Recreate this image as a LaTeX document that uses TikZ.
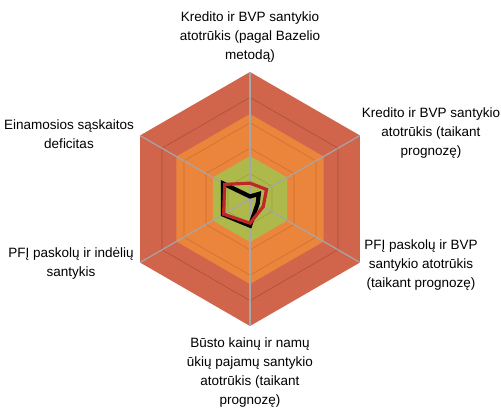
\documentclass[tikz,border=0pt]{standalone}
\usepackage{fontspec}
\setmainfont{Liberation Sans}
\definecolor{zonaR}{RGB}{208,101,76}
\definecolor{zonaO}{RGB}{236,133,60}
\definecolor{zonaG}{RGB}{173,185,74}
\definecolor{raudona}{RGB}{192,40,40}
\definecolor{pilka}{RGB}{166,166,166}

\begin{document}
\begin{tikzpicture}[
			x=1pt, y=1pt,
			tinklas/.style={line width=0.6pt},
			asis/.style={line width=1.2pt, pilka},
			serija/.style={line width=#1, line join=miter},
			pavad/.style={align=center, inner sep=0pt,
				font=\fontsize{13.5}{19}\selectfont}]
			\def\R{127}
			\useasboundingbox (-250,-209) rectangle (251,199);
			
			%% zonos
			\foreach \r/\c in {\R/zonaR, 85/zonaO, 43/zonaG}
				\fill[\c] (90:\r) \foreach \a in {30,-30,-90,-150,150} {-- (\a:\r)} -- cycle;
			
			%% tinklelis
			\foreach \k/\c in {0.8/zonaR!80!black, 0.6/zonaO!85!black, 0.4/zonaO!85!black, 0.2/zonaG!88!black}
				\draw[tinklas, \c] (90:{\k*\R}) \foreach \a in {30,-30,-90,-150,150} {-- (\a:{\k*\R})} -- cycle;
			
			%% asys
			\coordinate (c) at (0,0);
			\foreach \i/\a in {1/90, 2/30, 3/-30, 4/-90, 5/-150, 6/150}
				\coordinate (v\i) at (\a:\R);
			\foreach \i in {1,...,6}
				\draw[asis] (c) -- (v\i);
			
			%% duomenys
			\foreach \i/\a/\v in {1/90/0.02, 2/30/0.08, 3/-30/0.07, 4/-90/0.21, 5/-150/0.245, 6/150/0.245}
				\coordinate (b\i) at (\a:{\v*\R});
			\foreach \i/\a/\v in {1/90/0.125, 2/30/0.15, 3/-30/0.12, 4/-90/0.19, 5/-150/0.24, 6/150/0.23}
				\coordinate (r\i) at (\a:{\v*\R});
			\draw[serija=4.2pt, black] (b1) -- (b2) -- (b3) -- (b4) -- (b5) -- (b6) -- cycle;
			\draw[serija=3.2pt, raudona] (r1) -- (r2) -- (r3) -- (r4) -- (r5) -- (r6) -- cycle;
			
			%% pavadinimai
			\node[pavad] (p1) at (0,162) {Kredito ir BVP santykio\\atotrūkis (pagal Bazelio\\metodą)};
			\node[pavad] (p2) at (181,66) {Kredito ir BVP santykio\\atotrūkis (taikant\\prognozę)};
			\node[pavad] (p3) at (171,-66) {PFĮ paskolų ir BVP\\santykio atotrūkis\\(taikant prognozę)};
			\node[pavad] (p4) at (0,-174) {Būsto kainų ir namų\\ūkių pajamų santykio\\atotrūkis (taikant\\prognozę)};
			\node[pavad] (p5) at (-179,-65) {PFĮ paskolų ir indėlių\\santykis};
			\node[pavad] (p6) at (-181,65) {Einamosios sąskaitos\\deficitas};
		\end{tikzpicture}
\end{document}
